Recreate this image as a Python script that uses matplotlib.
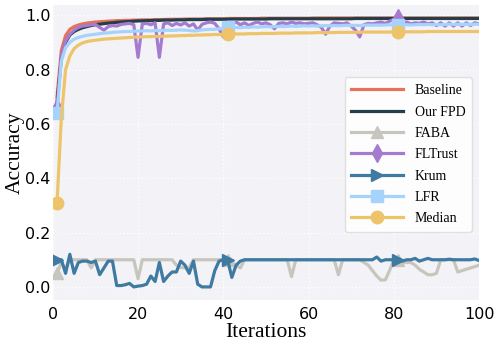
import numpy as np
import matplotlib
matplotlib.use("Agg")
import matplotlib.pyplot as plt

# iterations 1..100
iters = np.arange(1, 101)

baseline = [0.700, 0.870, 0.925, 0.948, 0.958, 0.964, 0.968, 0.971, 0.973, 0.975,
            0.976, 0.977, 0.978, 0.979, 0.980, 0.980, 0.981, 0.981, 0.982, 0.982,
            0.983, 0.983, 0.983, 0.984, 0.984, 0.984, 0.985, 0.985, 0.985, 0.985,
            0.986, 0.986, 0.986, 0.986, 0.986, 0.987, 0.987, 0.987, 0.987, 0.987,
            0.988, 0.988, 0.988, 0.988, 0.988, 0.988, 0.988, 0.988, 0.989, 0.989,
            0.989, 0.989, 0.989, 0.989, 0.989, 0.989, 0.989, 0.989, 0.989, 0.989,
            0.990, 0.990, 0.990, 0.990, 0.990, 0.990, 0.990, 0.990, 0.990, 0.990,
            0.990, 0.990, 0.990, 0.990, 0.990, 0.990, 0.990, 0.990, 0.990, 0.990,
            0.990, 0.990, 0.990, 0.990, 0.990, 0.990, 0.990, 0.990, 0.990, 0.990,
            0.990, 0.990, 0.990, 0.990, 0.990, 0.990, 0.990, 0.990, 0.990, 0.990]

our_fpd = [0.680, 0.840, 0.900, 0.927, 0.940, 0.948, 0.954, 0.958, 0.962, 0.965,
           0.967, 0.969, 0.971, 0.972, 0.974, 0.975, 0.976, 0.977, 0.978, 0.979,
           0.979, 0.980, 0.980, 0.981, 0.981, 0.982, 0.982, 0.982, 0.983, 0.983,
           0.983, 0.984, 0.984, 0.984, 0.984, 0.985, 0.985, 0.985, 0.985, 0.985,
           0.985, 0.986, 0.986, 0.986, 0.986, 0.986, 0.986, 0.986, 0.986, 0.986,
           0.987, 0.987, 0.987, 0.987, 0.987, 0.987, 0.987, 0.987, 0.987, 0.987,
           0.987, 0.987, 0.987, 0.987, 0.987, 0.987, 0.987, 0.987, 0.987, 0.987,
           0.988, 0.988, 0.988, 0.988, 0.988, 0.988, 0.988, 0.988, 0.988, 0.988,
           0.988, 0.988, 0.988, 0.988, 0.988, 0.988, 0.988, 0.988, 0.988, 0.988,
           0.988, 0.988, 0.988, 0.988, 0.988, 0.988, 0.988, 0.988, 0.988, 0.988]

faba = [0.050, 0.090, 0.065, 0.100, 0.100, 0.100, 0.100, 0.100, 0.070, 0.100,
        0.100, 0.100, 0.100, 0.100, 0.100, 0.100, 0.100, 0.100, 0.100, 0.030,
        0.100, 0.100, 0.100, 0.100, 0.100, 0.100, 0.100, 0.100, 0.080, 0.072,
        0.070, 0.072, 0.100, 0.100, 0.100, 0.100, 0.100, 0.100, 0.100, 0.100,
        0.100, 0.090, 0.080, 0.070, 0.100, 0.100, 0.100, 0.100, 0.100, 0.100,
        0.100, 0.100, 0.100, 0.100, 0.100, 0.038, 0.100, 0.100, 0.100, 0.100,
        0.100, 0.100, 0.100, 0.100, 0.100, 0.100, 0.045, 0.100, 0.100, 0.100,
        0.100, 0.100, 0.090, 0.080, 0.060, 0.040, 0.025, 0.026, 0.060, 0.100,
        0.100, 0.090, 0.090, 0.090, 0.080, 0.065, 0.055, 0.045, 0.045, 0.050,
        0.100, 0.100, 0.100, 0.100, 0.055, 0.060, 0.065, 0.070, 0.075, 0.080]

fltrust = [0.660, 0.850, 0.905, 0.930, 0.945, 0.955, 0.960, 0.962, 0.965, 0.966,
           0.955, 0.945, 0.958, 0.962, 0.960, 0.966, 0.968, 0.970, 0.965, 0.845,
           0.968, 0.970, 0.965, 0.972, 0.845, 0.968, 0.972, 0.962, 0.970, 0.964,
           0.972, 0.960, 0.968, 0.945, 0.966, 0.972, 0.975, 0.970, 0.950, 0.920,
           0.950, 0.970, 0.975, 0.965, 0.972, 0.962, 0.970, 0.975, 0.968, 0.972,
           0.965, 0.950, 0.970, 0.972, 0.968, 0.975, 0.970, 0.972, 0.968, 0.970,
           0.972, 0.965, 0.955, 0.930, 0.960, 0.972, 0.970, 0.968, 0.972, 0.960,
           0.945, 0.920, 0.965, 0.970, 0.968, 0.972, 0.975, 0.970, 0.978, 0.985,
           0.990, 0.970, 0.975, 0.968, 0.972, 0.970, 0.975, 0.968, 0.972, 0.962,
           0.972, 0.960, 0.972, 0.960, 0.972, 0.960, 0.972, 0.962, 0.972, 0.968]

krum = [0.100, 0.100, 0.050, 0.120, 0.050, 0.090, 0.095, 0.095, 0.090, 0.095,
        0.045, 0.070, 0.095, 0.095, 0.005, 0.005, 0.008, 0.013, 0.000, 0.003,
        0.005, 0.010, 0.040, 0.020, 0.090, 0.020, 0.040, 0.055, 0.055, 0.095,
        0.080, 0.050, 0.095, 0.010, 0.000, 0.000, 0.000, 0.060, 0.095, 0.100,
        0.100, 0.035, 0.080, 0.095, 0.100, 0.100, 0.100, 0.100, 0.100, 0.100,
        0.100, 0.100, 0.100, 0.100, 0.100, 0.100, 0.100, 0.100, 0.100, 0.100,
        0.100, 0.100, 0.100, 0.100, 0.100, 0.100, 0.100, 0.100, 0.100, 0.100,
        0.100, 0.100, 0.100, 0.100, 0.100, 0.110, 0.095, 0.100, 0.100, 0.100,
        0.100, 0.095, 0.100, 0.100, 0.105, 0.095, 0.100, 0.105, 0.100, 0.100,
        0.100, 0.100, 0.102, 0.100, 0.100, 0.100, 0.100, 0.100, 0.103, 0.097]

lfr = [0.640, 0.830, 0.880, 0.900, 0.912, 0.918, 0.922, 0.926, 0.928, 0.930,
       0.932, 0.934, 0.935, 0.937, 0.938, 0.939, 0.940, 0.940, 0.941, 0.942,
       0.942, 0.943, 0.942, 0.944, 0.943, 0.944, 0.945, 0.944, 0.945, 0.946,
       0.945, 0.944, 0.942, 0.943, 0.946, 0.947, 0.948, 0.948, 0.950, 0.952,
       0.955, 0.953, 0.955, 0.954, 0.956, 0.955, 0.957, 0.956, 0.957, 0.958,
       0.957, 0.958, 0.959, 0.958, 0.959, 0.960, 0.959, 0.960, 0.961, 0.960,
       0.961, 0.960, 0.961, 0.962, 0.961, 0.962, 0.961, 0.962, 0.963, 0.962,
       0.963, 0.962, 0.963, 0.964, 0.963, 0.964, 0.963, 0.964, 0.965, 0.964,
       0.965, 0.964, 0.965, 0.964, 0.965, 0.966, 0.965, 0.966, 0.965, 0.966,
       0.965, 0.966, 0.967, 0.966, 0.967, 0.966, 0.967, 0.966, 0.967, 0.967]

median = [0.310, 0.620, 0.800, 0.850, 0.877, 0.890, 0.898, 0.903, 0.906, 0.908,
          0.910, 0.912, 0.913, 0.914, 0.915, 0.916, 0.917, 0.918, 0.919, 0.920,
          0.920, 0.921, 0.921, 0.922, 0.922, 0.923, 0.923, 0.924, 0.924, 0.925,
          0.925, 0.926, 0.926, 0.927, 0.927, 0.928, 0.928, 0.929, 0.929, 0.930,
          0.930, 0.930, 0.931, 0.931, 0.931, 0.932, 0.932, 0.932, 0.933, 0.933,
          0.933, 0.933, 0.934, 0.934, 0.934, 0.934, 0.935, 0.935, 0.935, 0.935,
          0.935, 0.936, 0.936, 0.936, 0.936, 0.936, 0.937, 0.937, 0.937, 0.937,
          0.937, 0.937, 0.938, 0.938, 0.938, 0.938, 0.938, 0.938, 0.938, 0.939,
          0.939, 0.939, 0.939, 0.939, 0.939, 0.939, 0.939, 0.940, 0.940, 0.940,
          0.940, 0.940, 0.940, 0.940, 0.940, 0.940, 0.940, 0.940, 0.940, 0.940]

names = ["Baseline", "Our FPD", "FABA", "FLTrust", "Krum", "LFR", "Median"]
series = [baseline, our_fpd, faba, fltrust, krum, lfr, median]
colors = ["#E8715A", "#233F4C", "#C6C6BE", "#A57BD0", "#3E7AA1", "#A6D3FB", "#EDC46A"]
markers = [None, None, "^", "d", ">", "s", "o"]

fig = plt.figure(figsize=(4.98, 3.44), dpi=100)
ax = fig.add_axes([0.106, 0.128, 0.856, 0.857])
ax.set_facecolor("#F3F3F7")

for name, y, c, m in zip(names, series, colors, markers):
    ax.plot(iters, y, color=c, linewidth=2.3, label=name,
            marker=m, markersize=9, markevery=40)

ax.set_xlim(0, 100)
ax.set_ylim(-0.048, 1.037)
ax.set_xticks([0, 20, 40, 60, 80, 100])
ax.set_yticks([0.0, 0.2, 0.4, 0.6, 0.8, 1.0])
ax.tick_params(axis="x", length=0, labelsize=11.5, pad=5)
ax.tick_params(axis="y", length=0, labelsize=11.5, pad=1.5)
ax.grid(True, color="white", linestyle=":", linewidth=1.0)
ax.set_axisbelow(True)
for s in ax.spines.values():
    s.set_visible(False)

ax.set_xlabel("Iterations", fontfamily="Liberation Serif", fontsize=15.5, labelpad=1)
ax.set_ylabel("Accuracy", fontfamily="Liberation Serif", fontsize=15.5, labelpad=0.5)

leg = ax.legend(loc="lower right", bbox_to_anchor=(0.984, 0.23), borderaxespad=0,
                prop={"family": "Liberation Serif", "size": 10},
                handlelength=3.7, handletextpad=0.85, labelspacing=0.6,
                borderpad=0.5, frameon=True, fancybox=True)
leg.get_frame().set_facecolor("white")
leg.get_frame().set_edgecolor("#DDDDDD")
leg.get_frame().set_alpha(0.9)

fig.savefig("out.png", dpi=100)
